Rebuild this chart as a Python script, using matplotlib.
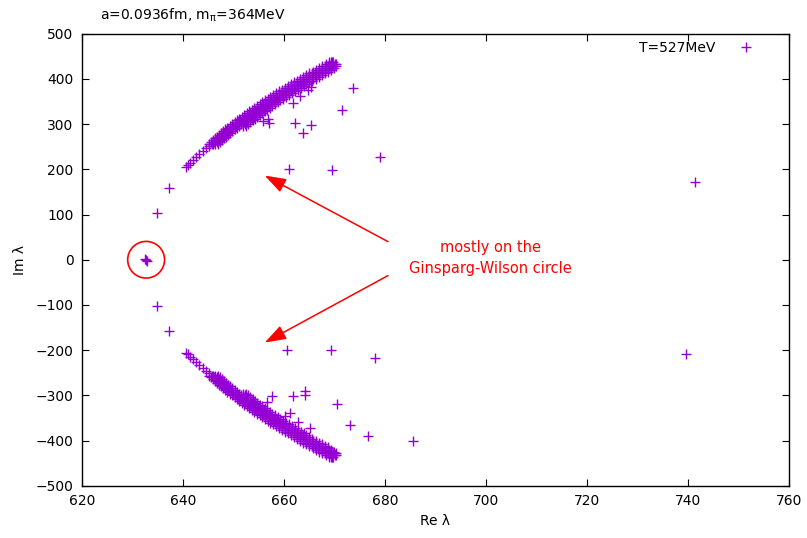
import matplotlib
matplotlib.use("Agg")
import matplotlib.pyplot as plt
from matplotlib.patches import Ellipse

plt.rcParams['font.family'] = ['DejaVu Sans']
plt.rcParams['font.size'] = 10

col = '#9400d3'

# dense band of eigenvalues (upper half, lower half is the conjugate)
band_im = [256, 260, 264, 268, 272, 276, 280, 284, 288, 292, 296, 300, 304, 308, 312, 316,
           320, 324, 328, 332, 336, 340, 344, 348, 352, 356, 360, 364, 368, 372, 376, 380,
           384, 388, 392, 396, 400, 404, 408, 412, 416, 420, 424, 428, 432, 436]
band_re_1 = [645.1, 645.5, 645.9, 646.3, 646.7, 647.1, 647.5, 648.0, 648.4, 648.8, 649.3,
             649.7, 650.2, 650.7, 651.1, 651.6, 652.1, 652.6, 653.1, 653.6, 654.1, 654.6,
             655.2, 655.7, 656.2, 656.8, 657.3, 657.9, 658.4, 659.0, 659.6, 660.2, 660.8,
             661.3, 661.9, 662.5, 663.2, 663.8, 664.4, 665.0, 665.7, 666.3, 666.9, 667.6,
             668.3, 668.9]
band_re_2 = [645.7, 646.1, 646.5, 646.9, 647.3, 647.7, 648.1, 648.6, 649.0, 649.4, 649.9,
             650.3, 650.8, 651.3, 651.7, 652.2, 652.7, 653.2, 653.7, 654.2, 654.7, 655.2,
             655.8, 656.3, 656.8, 657.4, 657.9, 658.5, 659.0, 659.6, 660.2, 660.8, 661.4,
             661.9, 662.5, 663.1, 663.8, 664.4, 665.0, 665.6, 666.3, 666.9, 667.5, 668.2,
             668.9, 669.3]
band_re_3 = [646.3, 646.7, 647.1, 647.5, 647.9, 648.3, 648.7, 649.2, 649.6, 650.0, 650.5,
             650.9, 651.4, 651.9, 652.3, 652.8, 653.3, 653.8, 654.3, 654.8, 655.3, 655.8,
             656.4, 656.9, 657.4, 658.0, 658.5, 659.1, 659.6, 660.2, 660.8, 661.4, 662.0,
             662.5, 663.1, 663.7, 664.4, 665.0, 665.6, 666.2, 666.9, 667.5, 668.1, 668.8,
             669.3, 669.6]
band_re_4 = [646.9, 647.3, 647.7, 648.1, 648.5, 648.9, 649.3, 649.8, 650.2, 650.6, 651.1,
             651.5, 652.0, 652.5, 652.9, 653.4, 653.9, 654.4, 654.9, 655.4, 655.9, 656.4,
             657.0, 657.5, 658.0, 658.6, 659.1, 659.7, 660.2, 660.8, 661.4, 662.0, 662.6,
             663.1, 663.7, 664.3, 665.0, 665.6, 666.2, 666.8, 667.5, 668.1, 668.7, 669.2,
             669.5, 669.8]

# inner side of the band, where it is widest
wide_im = [296, 300, 304, 308, 312, 316, 320, 324, 328, 332, 336, 340, 344, 348, 352, 356,
           360, 364, 368, 372, 376, 380, 384, 388, 392, 396, 400, 404, 408, 412, 416, 420,
           424, 428, 432]
wide_re_1 = [651.8, 652.2, 652.7, 653.2, 653.6, 654.1, 654.6, 655.1, 655.6, 656.1, 656.6,
             657.1, 657.7, 658.2, 658.7, 659.3, 659.8, 660.4, 660.9, 661.5, 662.1, 662.7,
             663.3, 663.8, 664.4, 665.0, 665.7, 666.3, 666.9, 667.5, 668.2, 668.8, 669.4,
             669.8, 670.1]
wide_re_2 = [652.4, 652.8, 653.3, 653.8, 654.2, 654.7, 655.2, 655.7, 656.2, 656.7, 657.2,
             657.7, 658.3, 658.8, 659.3, 659.9, 660.4, 661.0, 661.5, 662.1, 662.7, 663.3,
             663.9, 664.4, 665.0, 665.6, 666.3, 666.9, 667.5, 668.1, 668.8, 669.4, 669.9,
             670.2, 670.3]

# sparse points near the start of the bands
start_re = [640.6, 641.0, 641.4, 642.0, 642.6, 643.2, 643.9, 644.5, 645.1, 646.0]
start_im = [205, 209, 214, 220, 227, 233, 240, 246, 251, 256]

# isolated eigenvalues
up_re = [634.8, 637.3, 655.9, 657.1, 656.9, 661.8, 663.2, 664.8, 665.3, 662.2, 663.7,
         665.3, 671.4, 660.9, 669.6, 673.7, 679.0, 741.3]
up_im = [103, 158, 306, 302, 312, 346, 362, 376, 381, 302, 280,
         298, 330, 200, 199, 379, 227, 172]
lo_re = [634.8, 637.3, 660.5, 669.4, 664.2, 664.2, 661.8, 657.6, 656.6, 670.4, 661.2,
         660.2, 662.8, 665.1, 673.1, 668.8, 676.7, 678.0, 685.6, 739.6]
lo_im = [-102, -158, -199, -199, -291, -298, -302, -302, -315, -318, -339,
         -346, -359, -372, -366, -413, -389, -217, -401, -209]

# zero modes
zero_re = [632.4, 632.7, 632.9]
zero_im = [2, 0, -3]

fig = plt.figure(figsize=(8.07, 5.38), dpi=100)
ax = fig.add_axes([0.1016, 0.0967, 0.8761, 0.841])

band_re = band_re_1 + band_re_2 + band_re_3 + band_re_4 + wide_re_1 + wide_re_2
band_im_all = band_im * 4 + wide_im * 2
all_re = band_re * 2 + start_re * 2 + up_re + lo_re + zero_re
all_im = (band_im_all + [-v for v in band_im_all] + start_im + [-v for v in start_im]
          + up_im + lo_im + zero_im)
ax.plot(all_re, all_im, ls='none', marker='+', color=col, ms=7.5, mew=1.0,
        label='T=527MeV')

ax.add_patch(Ellipse((632.7, 0), 7.3, 81, fill=False, edgecolor='red', lw=1.2))

ax.text(700.8, 4, 'mostly on the\nGinsparg-Wilson circle', color='red',
        ha='center', va='center', fontsize=10.5, linespacing=1.5)
arrow = dict(arrowstyle='-|>,head_length=1.3,head_width=0.45', color='red', lw=1.1,
             shrinkA=0, shrinkB=0)
ax.annotate('', xy=(656.2, 186), xytext=(680.6, 40), arrowprops=arrow)
ax.annotate('', xy=(656.2, -183), xytext=(680.6, -35), arrowprops=arrow)

ax.set_xlim(620, 760)
ax.set_ylim(-500, 500)
ax.set_xticks(range(620, 761, 20))
ax.set_yticks(range(-500, 501, 100))
ax.tick_params(direction='in', top=True, right=True, length=5, pad=6)
for s in ax.spines.values():
    s.set_linewidth(1.0)

ax.set_xlabel('Re λ', labelpad=4)
ax.set_ylabel('Im λ', labelpad=6)

ax.legend(loc='upper right', bbox_to_anchor=(0.969, 0.996), borderaxespad=0,
          frameon=False, markerfirst=False, handlelength=2.2, handletextpad=1.15)

fig.text(100 / 807, 1 - 15 / 538, r'a=0.0936fm, m$_\mathregular{\pi}$=364MeV',
         ha='left', va='center', fontsize=10)

fig.savefig('out.png', dpi=100)
